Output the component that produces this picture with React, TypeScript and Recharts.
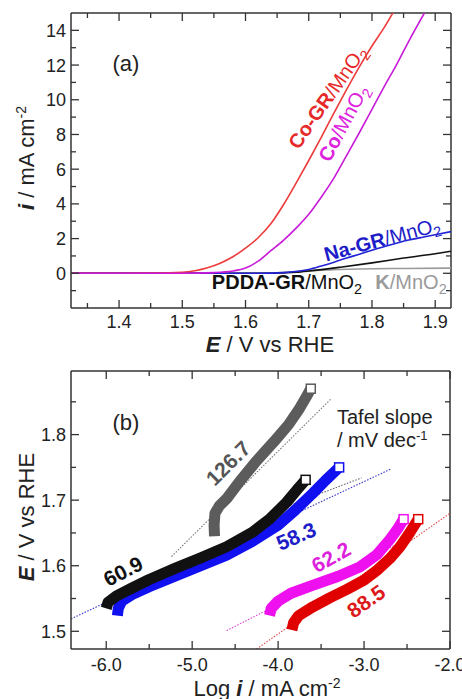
import type { ReactNode } from "react";
import { ComposedChart, Line, XAxis, YAxis, ReferenceLine } from "recharts";

const FONT = "Arial, 'Liberation Sans', Helvetica, sans-serif";
const FRAME = "#333";
const TXT = "#222";

type Pt = { x: number; y: number };
const pts = (rows: number[][]): Pt[] => rows.map(([x, y]) => ({ x, y }));

// ---------- (a) polarisation curves: E / V vs RHE -> i / mA cm-2
const aXDomain = [1.324, 1.925];
const aYDomain = [-2, 15];
const aXTicks = [1.35, 1.4, 1.45, 1.5, 1.55, 1.6, 1.65, 1.7, 1.75, 1.8, 1.85, 1.9];
const aXMajor = [1.4, 1.5, 1.6, 1.7, 1.8, 1.9];
const aYTicks = [-1, 0, 1, 2, 3, 4, 5, 6, 7, 8, 9, 10, 11, 12, 13, 14];
const aYMajor = [0, 2, 4, 6, 8, 10, 12, 14];

const coGrMnO2 = pts([
  [1.324, 0], [1.4, 0], [1.45, 0.01], [1.5, 0.06], [1.52, 0.15], [1.54, 0.32], [1.56, 0.58],
  [1.58, 0.95], [1.6, 1.45], [1.62, 2.05], [1.64, 2.85], [1.66, 3.95], [1.68, 5.2], [1.7, 6.5],
  [1.72, 7.85], [1.74, 9.25], [1.76, 10.6], [1.78, 11.9], [1.8, 13.1], [1.82, 14.2], [1.833, 15],
]);
const coMnO2 = pts([
  [1.324, 0], [1.5, 0], [1.55, 0.04], [1.58, 0.13], [1.6, 0.3], [1.62, 0.7], [1.64, 1.3],
  [1.66, 1.9], [1.68, 2.6], [1.7, 3.4], [1.72, 4.4], [1.74, 5.5], [1.76, 6.8], [1.78, 8.1],
  [1.8, 9.45], [1.82, 10.8], [1.84, 12.1], [1.86, 13.5], [1.883, 15],
]);
const naGrMnO2 = pts([
  [1.324, 0], [1.62, 0], [1.66, 0.04], [1.68, 0.1], [1.7, 0.22], [1.72, 0.42], [1.74, 0.64],
  [1.76, 0.88], [1.78, 1.1], [1.8, 1.33], [1.82, 1.55], [1.84, 1.75], [1.86, 1.93], [1.88, 2.08],
  [1.9, 2.22], [1.925, 2.4],
]);
const pddaGrMnO2 = pts([
  [1.324, 0], [1.64, 0], [1.68, 0.06], [1.7, 0.13], [1.75, 0.35], [1.8, 0.6], [1.85, 0.88],
  [1.9, 1.13], [1.925, 1.27],
]);
const kMnO2 = pts([
  [1.324, 0], [1.62, 0], [1.68, 0.1], [1.72, 0.18], [1.78, 0.25], [1.85, 0.28], [1.925, 0.3],
]);

// ---------- (b) Tafel plots: Log i -> E
const bXDomain = [-6.41, -2.0];
const bYDomain = [1.473, 1.897];
const bXTicks = [-6, -5.5, -5, -4.5, -4, -3.5, -3, -2.5, -2];
const bXMajor = [-6, -5, -4, -3, -2];
const bYTicks = [1.5, 1.55, 1.6, 1.65, 1.7, 1.75, 1.8, 1.85];
const bYMajor = [1.5, 1.6, 1.7, 1.8];

const tafelK = pts([
  [-4.74, 1.645], [-4.745, 1.662], [-4.735, 1.68], [-4.68, 1.692], [-4.6, 1.702], [-4.45, 1.728],
  [-4.25, 1.76], [-4.05, 1.789], [-3.88, 1.815], [-3.76, 1.838], [-3.67, 1.858], [-3.62, 1.87],
]);
const tafelPdda = pts([
  [-6.0, 1.535], [-5.98, 1.544], [-5.88, 1.554], [-5.7, 1.566], [-5.5, 1.579], [-5.2, 1.596],
  [-4.9, 1.612], [-4.6, 1.629], [-4.3, 1.651], [-4.1, 1.671], [-3.9, 1.697], [-3.78, 1.716],
  [-3.68, 1.731],
]);
const tafelNa = pts([
  [-5.87, 1.524], [-5.86, 1.535], [-5.82, 1.546], [-5.7, 1.556], [-5.5, 1.568], [-5.2, 1.584],
  [-4.9, 1.6], [-4.6, 1.616], [-4.3, 1.637], [-4.0, 1.662], [-3.8, 1.685], [-3.6, 1.71],
  [-3.45, 1.73], [-3.29, 1.75],
]);
const tafelCo = pts([
  [-4.1, 1.524], [-4.08, 1.535], [-4.0, 1.546], [-3.85, 1.558], [-3.6, 1.57], [-3.3, 1.584],
  [-3.05, 1.598], [-2.85, 1.617], [-2.7, 1.64], [-2.6, 1.658], [-2.54, 1.671],
]);
const tafelCoGr = pts([
  [-3.84, 1.502], [-3.82, 1.513], [-3.76, 1.524], [-3.6, 1.537], [-3.4, 1.551], [-3.2, 1.564],
  [-3.0, 1.578], [-2.85, 1.593], [-2.7, 1.611], [-2.58, 1.629], [-2.47, 1.65], [-2.37, 1.671],
]);

const fitK = pts([[-5.24, 1.614], [-3.38, 1.855]]);
const fitNa = pts([[-6.41, 1.519], [-2.68, 1.748]]);
const fitPdda = pts([[-3.95, 1.688], [-3.03, 1.734]]);
const fitCo = pts([[-4.6, 1.501], [-2.6, 1.634]]);
const fitCoGr = pts([[-4.25, 1.473], [-2.0, 1.68]]);

const near = (list: number[], v: number) => list.some((m) => Math.abs(m - v) < 1e-6);

// inward ticks on bottom + mirrored on top
const xTick = (major: number[], plotH: number, labelDy: number) => (p: any) => {
  const { x, y, payload } = p;
  const v = payload.value as number;
  const big = near(major, v);
  const len = big ? 8 : 5;
  return (
    <g>
      <line x1={x} y1={y} x2={x} y2={y - len} stroke={FRAME} strokeWidth={1.3} />
      <line x1={x} y1={y - plotH} x2={x} y2={y - plotH + len} stroke={FRAME} strokeWidth={1.3} />
      {big && (
        <text x={x} y={y + labelDy} textAnchor="middle" fontSize={18} fill={TXT} fontFamily={FONT}>
          {v.toFixed(1)}
        </text>
      )}
    </g>
  );
};

// inward ticks on left + mirrored on right
const yTick = (major: number[], plotW: number, fmt: (v: number) => string) => (p: any) => {
  const { x, y, payload } = p;
  const v = payload.value as number;
  const big = near(major, v);
  const len = big ? 8 : 5;
  return (
    <g>
      <line x1={x} y1={y} x2={x + len} y2={y} stroke={FRAME} strokeWidth={1.3} />
      <line x1={x + plotW} y1={y} x2={x + plotW - len} y2={y} stroke={FRAME} strokeWidth={1.3} />
      {big && (
        <text x={x - 5} y={y + 6.5} textAnchor="end" fontSize={18} fill={TXT} fontFamily={FONT}>
          {fmt(v)}
        </text>
      )}
    </g>
  );
};

const endSquare = (color: string, n: number) => (p: any) =>
  p.index === n - 1 ? (
    <rect key={p.index} x={p.cx - 4.5} y={p.cy - 4.5} width={9} height={9} fill="#fff" stroke={color} strokeWidth={1.5} />
  ) : (
    <g key={p.index} />
  );

const Sub = ({ children }: { children: string }) => (
  <tspan dy={5} fontSize="0.72em" fontWeight="normal">{children}</tspan>
);

// text centred on (x, y), rotated by a degrees
const Rot = ({ x, y, a, size, color, bold, children }: {
  x: number; y: number; a: number; size: number; color: string; bold?: boolean; children: ReactNode;
}) => (
  <g transform={`translate(${x} ${y}) rotate(${a})`}>
    <text x={0} y={0} dy="0.36em" textAnchor="middle" fontSize={size} fill={color} fontWeight={bold ? "bold" : "normal"}>
      {children}
    </text>
  </g>
);

const PanelA = () => (
  <ComposedChart width={462} height={340} margin={{ top: 13, right: 11, bottom: 0, left: 0 }}>
    <XAxis
      type="number"
      dataKey="x"
      domain={aXDomain}
      ticks={aXTicks}
      interval={0}
      height={32}
      tickSize={0}
      tickMargin={0}
      tick={xTick(aXMajor, 295, 20)}
      axisLine={{ stroke: FRAME, strokeWidth: 1.5 }}
      allowDataOverflow
    />
    <YAxis
      type="number"
      domain={aYDomain}
      ticks={aYTicks}
      interval={0}
      width={71}
      tickSize={0}
      tickMargin={0}
      tick={yTick(aYMajor, 380, (v) => String(v))}
      axisLine={{ stroke: FRAME, strokeWidth: 1.5 }}
      allowDataOverflow
    />
    <ReferenceLine x={aXDomain[1]} stroke={FRAME} strokeWidth={1.5} />
    <ReferenceLine y={aYDomain[1]} stroke={FRAME} strokeWidth={1.5} />
    <Line data={kMnO2} dataKey="y" type="monotone" stroke="#9a9a9a" strokeWidth={1.6} dot={false} isAnimationActive={false} />
    <Line data={pddaGrMnO2} dataKey="y" type="monotone" stroke="#111" strokeWidth={1.6} dot={false} isAnimationActive={false} />
    <Line data={naGrMnO2} dataKey="y" type="monotone" stroke="#2222d6" strokeWidth={1.6} dot={false} isAnimationActive={false} />
    <Line data={coGrMnO2} dataKey="y" type="monotone" stroke="#ee3b3b" strokeWidth={1.6} dot={false} isAnimationActive={false} />
    <Line data={coMnO2} dataKey="y" type="monotone" stroke="#c81ad8" strokeWidth={1.6} dot={false} isAnimationActive={false} />
  </ComposedChart>
);

const band = (data: Pt[], color: string) => (
  <Line
    data={data}
    dataKey="y"
    type="linear"
    stroke={color}
    strokeWidth={11}
    strokeLinejoin="round"
    dot={endSquare(color, data.length)}
    isAnimationActive={false}
  />
);

const fit = (data: Pt[], color: string) => (
  <Line data={data} dataKey="y" type="linear" stroke={color} strokeWidth={1.1} strokeDasharray="1.5 1.5" dot={false} isAnimationActive={false} />
);

const PanelB = () => (
  <ComposedChart width={462} height={359} margin={{ top: 31, right: 12, bottom: 0, left: 0 }}>
    <XAxis
      type="number"
      dataKey="x"
      domain={bXDomain}
      ticks={bXTicks}
      interval={0}
      height={50}
      tickSize={0}
      tickMargin={0}
      tick={xTick(bXMajor, 278, 22)}
      axisLine={{ stroke: FRAME, strokeWidth: 1.5 }}
      allowDataOverflow
    />
    <YAxis
      type="number"
      domain={bYDomain}
      ticks={bYTicks}
      interval={0}
      width={71}
      tickSize={0}
      tickMargin={0}
      tick={yTick(bYMajor, 379, (v) => v.toFixed(1))}
      axisLine={{ stroke: FRAME, strokeWidth: 1.5 }}
      allowDataOverflow
    />
    <ReferenceLine x={bXDomain[1]} stroke={FRAME} strokeWidth={1.5} />
    <ReferenceLine y={bYDomain[1]} stroke={FRAME} strokeWidth={1.5} />
    {fit(fitK, "#777")}
    {fit(fitNa, "#3434c8")}
    {fit(fitPdda, "#666")}
    {fit(fitCo, "#d848d8")}
    {fit(fitCoGr, "#e04848")}
    {band(tafelK, "#5c5c5c")}
    {band(tafelNa, "#1010f0")}
    {band(tafelPdda, "#111111")}
    {band(tafelCo, "#ee10ee")}
    {band(tafelCoGr, "#e00000")}
  </ComposedChart>
);

const Overlay = () => (
  <svg width={462} height={699} style={{ position: "absolute", left: 0, top: 0, pointerEvents: "none" }} fontFamily={FONT}>
    {/* axis titles */}
    <text x={34} y={158} transform="rotate(-90 34 158)" textAnchor="middle" fontSize={22} fill={TXT}>
      <tspan fontWeight="bold" fontStyle="italic">i</tspan> / mA cm<tspan dy={-8} fontSize={14}>-2</tspan>
    </text>
    <text x={270} y={352} textAnchor="middle" fontSize={22} fill={TXT}>
      <tspan fontWeight="bold" fontStyle="italic">E</tspan> / V vs RHE
    </text>
    <text x={34} y={517} transform="rotate(-90 34 517)" textAnchor="middle" fontSize={22} fill={TXT}>
      <tspan fontWeight="bold" fontStyle="italic">E</tspan> / V vs RHE
    </text>
    <text x={267} y={696} textAnchor="middle" fontSize={22} fill={TXT}>
      Log <tspan fontWeight="bold" fontStyle="italic">i</tspan> / mA cm<tspan dy={-8} fontSize={14}>-2</tspan>
    </text>

    {/* panel (a) */}
    <text x={126} y={71} textAnchor="middle" fontSize={22} fill={TXT}>(a)</text>
    <Rot x={327} y={97} a={-55} size={20} color="#e62a2a">
      <tspan fontWeight="bold">Co-GR</tspan>/MnO<Sub>2</Sub>
    </Rot>
    <Rot x={343} y={123} a={-62} size={20} color="#dd22dd">
      <tspan fontWeight="bold">Co</tspan>/MnO<Sub>2</Sub>
    </Rot>
    <Rot x={382} y={239} a={-15} size={20} color="#1c1cc8">
      <tspan fontWeight="bold">Na-GR</tspan>/MnO<Sub>2</Sub>
    </Rot>
    <text x={287} y={289} textAnchor="middle" fontSize={20} fill="#111">
      <tspan fontWeight="bold">PDDA-GR</tspan>/MnO<Sub>2</Sub>
    </text>
    <text x={411} y={289} textAnchor="middle" fontSize={20} fill="#9a9a9a">
      <tspan fontWeight="bold">K</tspan>/MnO<Sub>2</Sub>
    </text>

    {/* panel (b) */}
    <text x={126} y={430} textAnchor="middle" fontSize={22} fill={TXT}>(b)</text>
    <text x={337} y={424} fontSize={20} fill={TXT}>Tafel slope</text>
    <text x={337} y={447} fontSize={20} fill={TXT}>
      / mV dec<tspan dy={-7} fontSize={13}>-1</tspan>
    </text>
    <Rot x={228} y={463} a={-45} size={21} color="#555" bold>126.7</Rot>
    <Rot x={296} y={536} a={-23} size={21} color="#1c1cc8" bold>58.3</Rot>
    <Rot x={123} y={571} a={-27} size={21} color="#111" bold>60.9</Rot>
    <Rot x={331} y={557} a={-29} size={21} color="#dd22dd" bold>62.2</Rot>
    <Rot x={366} y={601} a={-35} size={21} color="#dd1a1a" bold>88.5</Rot>
  </svg>
);

export default function App() {
  return (
    <div style={{ position: "absolute", left: 0, top: 0, width: 462, height: 699, background: "#fff", fontFamily: FONT }}>
      <div style={{ position: "absolute", left: 0, top: 0 }}>
        <PanelA />
      </div>
      <div style={{ position: "absolute", left: 0, top: 340 }}>
        <PanelB />
      </div>
      <Overlay />
    </div>
  );
}
